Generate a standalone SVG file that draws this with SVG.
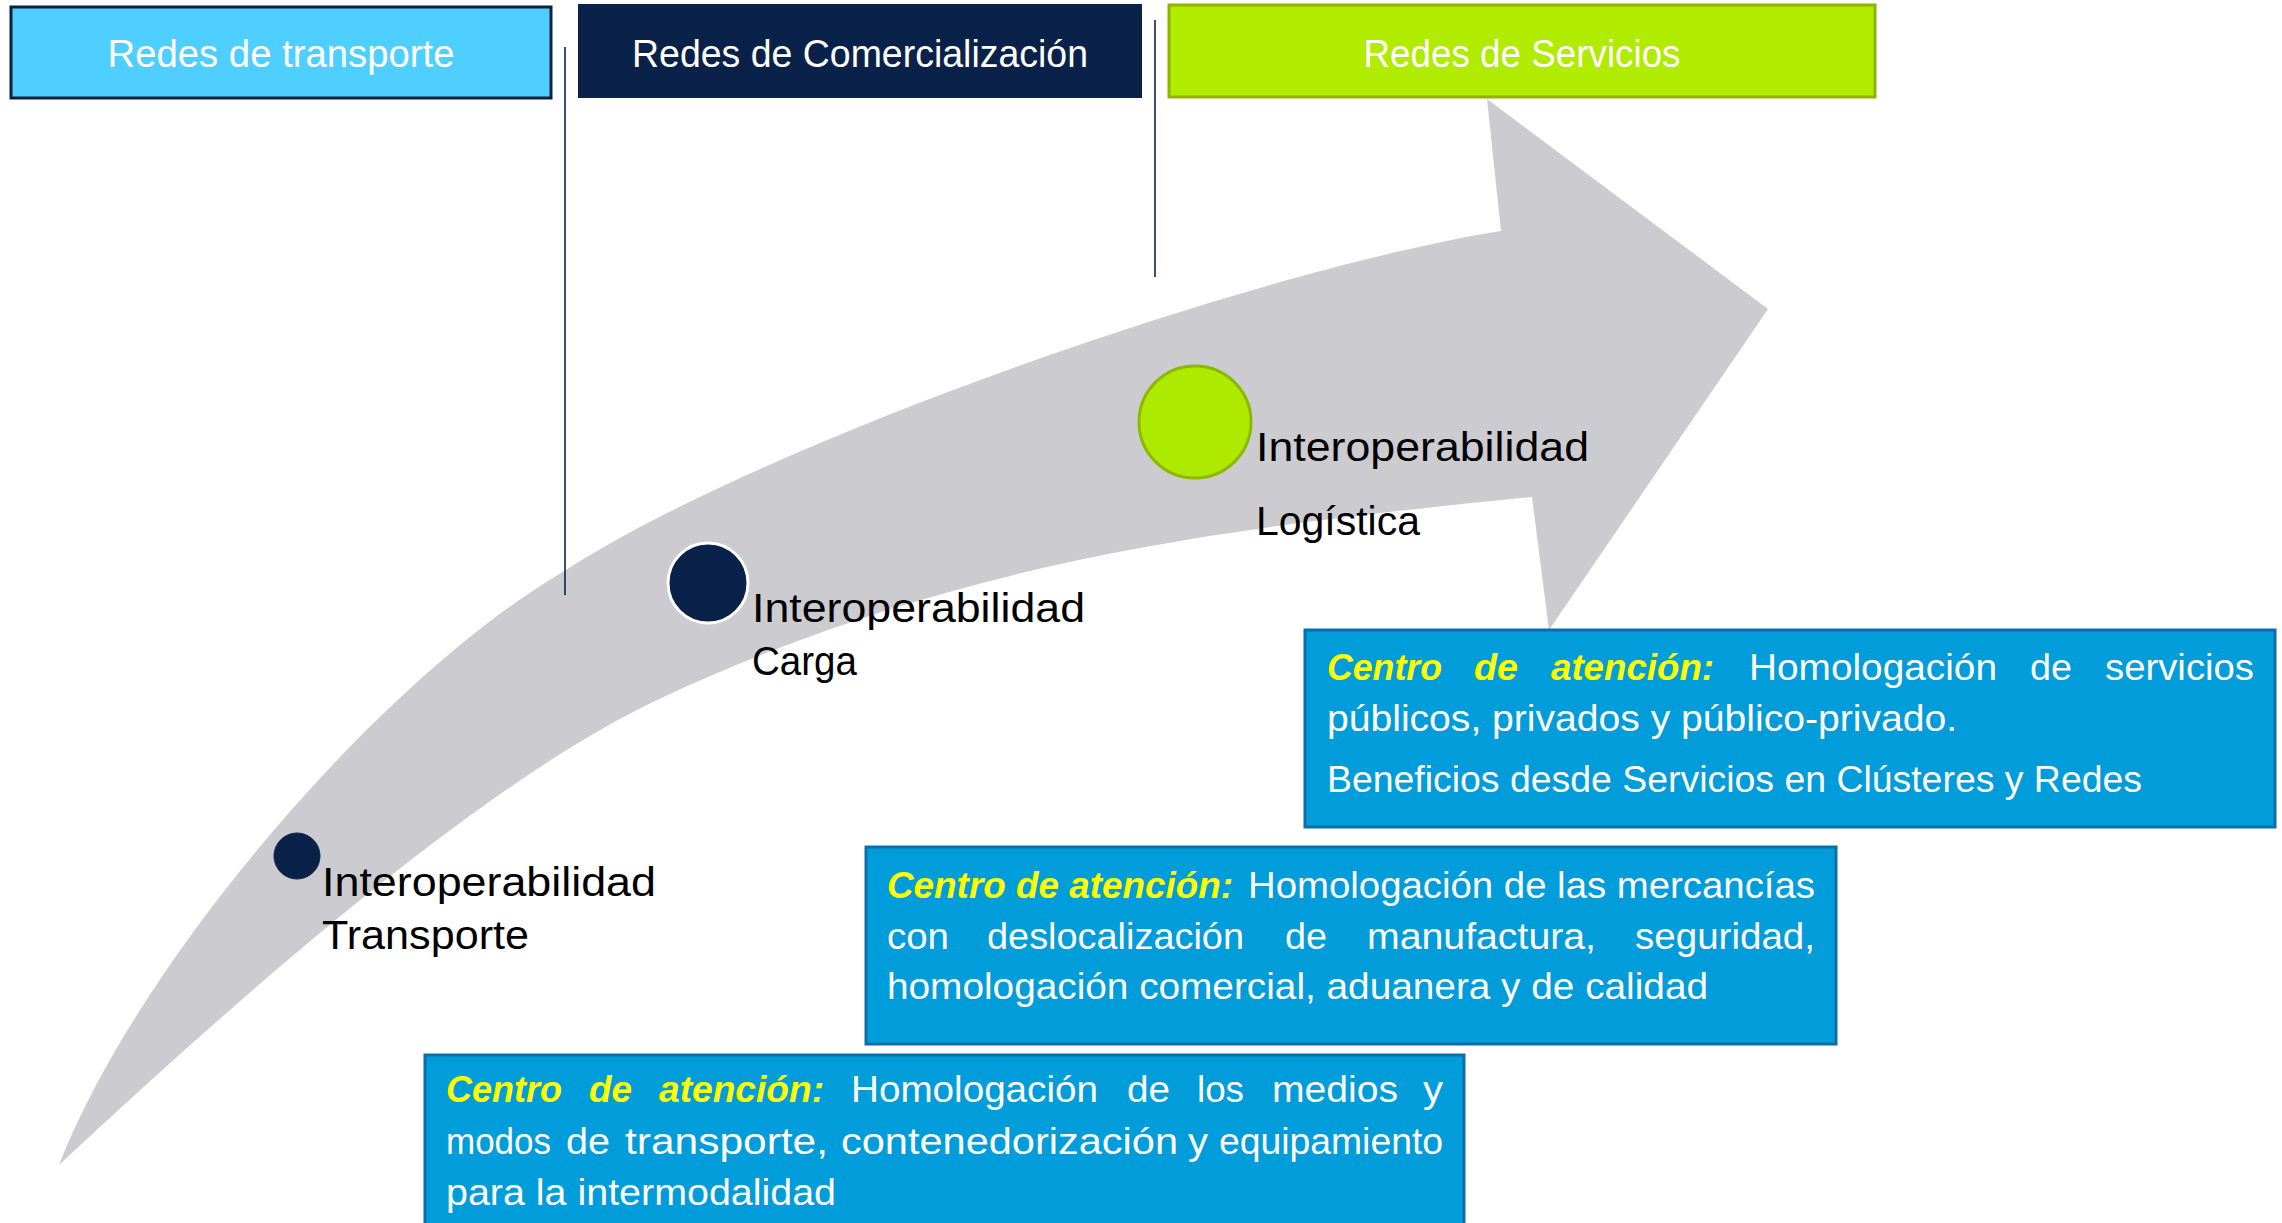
<svg xmlns="http://www.w3.org/2000/svg" width="2282" height="1223" viewBox="0 0 2282 1223">
<style>
.hdr{font-family:"Liberation Sans",Arial,sans-serif;font-size:38px;fill:#FFFFFF;text-anchor:middle}
.lbl{font-family:"Liberation Sans",Arial,sans-serif;font-size:40px;fill:#000000}
.bt{font-family:"Liberation Sans",Arial,sans-serif;font-size:36px;fill:#FFFFFF}
.yl{fill:#FFFF00;font-weight:bold;font-style:italic}
.bbox{fill:#019CDA;stroke:#0B6EA8;stroke-width:3}
.vline{stroke:#0A2249;stroke-width:1.6}
</style>
<rect width="2282" height="1223" fill="#FFFFFF"/>
<g id="arrow">
<path d="M59,1165 C139,960 380,680 561,573 C761,443 1251,271 1501,231 L1487,99 L1768,309 L1549,630 L1532,497 C1232,527 957,559 657,700 C457,794 169,1063 59,1165 Z" fill="#CBCBD0"/>
</g>
<g id="connectors">
<line class="vline" x1="565" y1="47" x2="565" y2="595"/>
<line class="vline" x1="1155" y1="20" x2="1155" y2="277"/>
</g>
<g id="hdr-transporte">
<rect x="11" y="7" width="540" height="91" fill="#4FCFFF" stroke="#0A2240" stroke-width="3"/>
<text class="hdr" x="281" y="67" textLength="347" lengthAdjust="spacingAndGlyphs">Redes de transporte</text>
</g>
<g id="hdr-comercializacion">
<rect x="579" y="5" width="562" height="92" fill="#0A2249" stroke="#0A2249" stroke-width="2"/>
<text class="hdr" x="860" y="67" textLength="456" lengthAdjust="spacingAndGlyphs">Redes de Comercialización</text>
</g>
<g id="hdr-servicios">
<rect x="1169" y="5" width="706" height="92" fill="#B0EB00" stroke="#8DB400" stroke-width="3"/>
<text class="hdr" x="1522" y="67" textLength="317" lengthAdjust="spacingAndGlyphs">Redes de Servicios</text>
</g>
<g id="node-transporte">
<circle cx="297" cy="856" r="23" fill="#0A2249" stroke="#0A2249" stroke-width="1"/>
<text class="lbl" x="322" y="896" textLength="334" lengthAdjust="spacingAndGlyphs">Interoperabilidad</text>
<text class="lbl" x="322" y="949" textLength="207" lengthAdjust="spacingAndGlyphs">Transporte</text>
</g>
<g id="node-carga">
<circle cx="708" cy="583" r="40" fill="#0A2249" stroke="#FFFFFF" stroke-width="3"/>
<text class="lbl" x="752" y="622" textLength="333" lengthAdjust="spacingAndGlyphs">Interoperabilidad</text>
<text class="lbl" x="752" y="675" textLength="105" lengthAdjust="spacingAndGlyphs">Carga</text>
</g>
<g id="node-logistica">
<circle cx="1195" cy="422" r="56" fill="#AEEA00" stroke="#8CB800" stroke-width="3"/>
<text class="lbl" x="1256" y="461" textLength="333" lengthAdjust="spacingAndGlyphs">Interoperabilidad</text>
<text class="lbl" x="1256" y="535" textLength="164" lengthAdjust="spacingAndGlyphs">Logística</text>
</g>
<g id="box-servicios">
<rect class="bbox" x="1305" y="630" width="970" height="197"/>
<text class="bt" y="680"><tspan class="yl" x="1327" textLength="115" lengthAdjust="spacingAndGlyphs">Centro</tspan><tspan class="yl" x="1474" textLength="44" lengthAdjust="spacingAndGlyphs">de</tspan><tspan class="yl" x="1551" textLength="163" lengthAdjust="spacingAndGlyphs">atención:</tspan><tspan x="1749" textLength="248" lengthAdjust="spacingAndGlyphs">Homologación</tspan><tspan x="2030" textLength="42" lengthAdjust="spacingAndGlyphs">de</tspan><tspan x="2105" textLength="149" lengthAdjust="spacingAndGlyphs">servicios</tspan></text>
<text class="bt" x="1327" y="731" textLength="630" lengthAdjust="spacingAndGlyphs">públicos, privados y público-privado.</text>
<text class="bt" x="1327" y="792" textLength="815" lengthAdjust="spacingAndGlyphs">Beneficios desde Servicios en Clústeres y Redes</text>
</g>
<g id="box-mercancias">
<rect class="bbox" x="866" y="847" width="970" height="197"/>
<text class="bt" y="898"><tspan class="yl" x="887" textLength="346" lengthAdjust="spacingAndGlyphs">Centro de atención:</tspan><tspan x="1248" textLength="567" lengthAdjust="spacingAndGlyphs">Homologación de las mercancías</tspan></text>
<text class="bt" y="949"><tspan x="887" textLength="62" lengthAdjust="spacingAndGlyphs">con</tspan><tspan x="987" textLength="257" lengthAdjust="spacingAndGlyphs">deslocalización</tspan><tspan x="1285" textLength="42" lengthAdjust="spacingAndGlyphs">de</tspan><tspan x="1367" textLength="229" lengthAdjust="spacingAndGlyphs">manufactura,</tspan><tspan x="1635" textLength="180" lengthAdjust="spacingAndGlyphs">seguridad,</tspan></text>
<text class="bt" x="887" y="999" textLength="821" lengthAdjust="spacingAndGlyphs">homologación comercial, aduanera y de calidad</text>
</g>
<g id="box-transporte">
<rect class="bbox" x="425" y="1055" width="1039" height="180"/>
<text class="bt" y="1102"><tspan class="yl" x="446" textLength="116" lengthAdjust="spacingAndGlyphs">Centro</tspan><tspan class="yl" x="589" textLength="43" lengthAdjust="spacingAndGlyphs">de</tspan><tspan class="yl" x="659" textLength="165" lengthAdjust="spacingAndGlyphs">atención:</tspan><tspan x="851" textLength="247" lengthAdjust="spacingAndGlyphs">Homologación</tspan><tspan x="1127" textLength="43" lengthAdjust="spacingAndGlyphs">de</tspan><tspan x="1197" textLength="47" lengthAdjust="spacingAndGlyphs">los</tspan><tspan x="1272" textLength="126" lengthAdjust="spacingAndGlyphs">medios</tspan><tspan x="1423" textLength="20" lengthAdjust="spacingAndGlyphs">y</tspan></text>
<text class="bt" y="1154"><tspan x="446" textLength="105" lengthAdjust="spacingAndGlyphs">modos</tspan><tspan x="566" textLength="44" lengthAdjust="spacingAndGlyphs">de</tspan><tspan x="625" textLength="203" lengthAdjust="spacingAndGlyphs">transporte,</tspan><tspan x="841" textLength="337" lengthAdjust="spacingAndGlyphs">contenedorización</tspan><tspan x="1188" textLength="20" lengthAdjust="spacingAndGlyphs">y</tspan><tspan x="1219" textLength="224" lengthAdjust="spacingAndGlyphs">equipamiento</tspan></text>
<text class="bt" x="446" y="1205" textLength="390" lengthAdjust="spacingAndGlyphs">para la intermodalidad</text>
</g>
</svg>
